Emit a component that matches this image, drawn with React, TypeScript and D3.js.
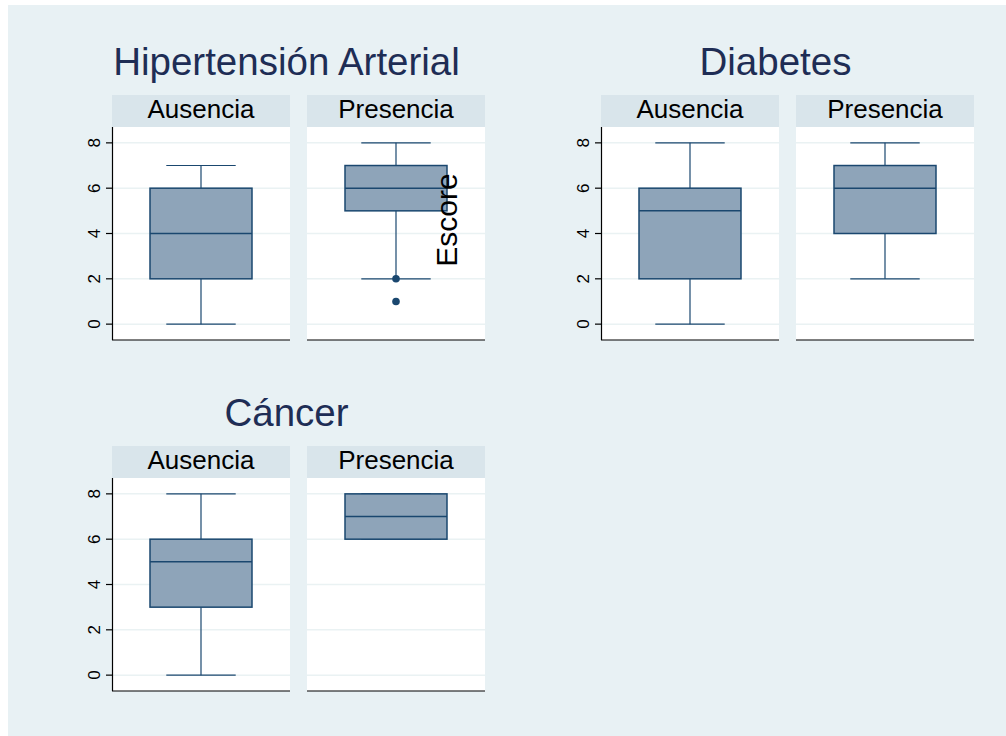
import * as d3 from "d3";

// Datos
const groupTitles = ["Hipertensión Arterial", "Diabetes", "Cáncer"];
const categories = ["Ausencia", "Presencia"];
const lowWhisker = [[0, 2], [0, 2], [0, 6]];
const q1 = [[2, 5], [2, 4], [3, 6]];
const median = [[4, 6], [5, 6], [5, 7]];
const q3 = [[6, 7], [6, 7], [6, 8]];
const highWhisker = [[7, 8], [8, 8], [8, 8]];
const outliers: number[][][] = [[[], [2, 1]], [[], []], [[], []]];
const yTicks = [0, 2, 4, 6, 8];

const W = 1006;
const H = 736;
const BG = "#e8f1f4";
const STRIP = "#d9e5eb";
const NAVY = "#1a476f";
const BOXFILL = "#8ea4b9";
const FONT = "'Liberation Sans', Arial, Helvetica, sans-serif";

// origines des groupes (coin gauche du premier panneau, haut de la bande)
const groupPos = [
  { x: 112, top: 95 },
  { x: 601, top: 95 },
  { x: 112, top: 446 },
];
const panelW = 178;
const panelGap = 17;
const stripH = 32;
const plotH = 213;

function Group({ gi }: { gi: number }) {
  const { x, top } = groupPos[gi];
  const plotTop = top + stripH;
  const plotBottom = plotTop + plotH;

  const xBand = d3
    .scaleBand<string>()
    .domain(categories)
    .range([x, x + 2 * panelW + panelGap])
    .paddingInner(panelGap / (panelW + panelGap));
  const y = d3.scaleLinear().domain([-0.7, 8.7]).range([plotBottom, plotTop]);

  const bw = xBand.bandwidth();
  const boxW = bw * 0.573;
  const capW = bw * 0.39;
  const titleCx = (x - 24 + x + 2 * panelW + panelGap) / 2;

  return (
    <g>
      <text
        x={titleCx}
        y={top - 20}
        textAnchor="middle"
        fontSize={38.5}
        fill="#1e2d55"
        fontFamily={FONT}
      >
        {groupTitles[gi]}
      </text>
      {categories.map((c, ci) => {
        const px = xBand(c)!;
        const cx = px + bw / 2;
        return (
          <g key={c}>
            <rect x={px} y={top} width={bw} height={stripH} fill={STRIP} />
            <text
              x={cx}
              y={top + 23}
              textAnchor="middle"
              fontSize={26}
              fill="#000"
              fontFamily={FONT}
            >
              {c}
            </text>
            <rect x={px} y={plotTop} width={bw} height={plotH} fill="#fff" />
            {yTicks.map((t) => (
              <line
                key={t}
                x1={px}
                x2={px + bw}
                y1={y(t)}
                y2={y(t)}
                stroke="#eaf2f3"
                strokeWidth={1.5}
              />
            ))}
            {/* bigotes */}
            <line x1={cx} x2={cx} y1={y(lowWhisker[gi][ci])} y2={y(q1[gi][ci])} stroke={NAVY} strokeWidth={1.2} />
            <line x1={cx} x2={cx} y1={y(q3[gi][ci])} y2={y(highWhisker[gi][ci])} stroke={NAVY} strokeWidth={1.2} />
            <line
              x1={cx - capW / 2}
              x2={cx + capW / 2}
              y1={y(lowWhisker[gi][ci])}
              y2={y(lowWhisker[gi][ci])}
              stroke={NAVY}
              strokeWidth={1.2}
            />
            <line
              x1={cx - capW / 2}
              x2={cx + capW / 2}
              y1={y(highWhisker[gi][ci])}
              y2={y(highWhisker[gi][ci])}
              stroke={NAVY}
              strokeWidth={1.2}
            />
            {/* caja */}
            <rect
              x={cx - boxW / 2}
              y={y(q3[gi][ci])}
              width={boxW}
              height={y(q1[gi][ci]) - y(q3[gi][ci])}
              fill={BOXFILL}
              stroke={NAVY}
              strokeWidth={1.5}
            />
            <line
              x1={cx - boxW / 2}
              x2={cx + boxW / 2}
              y1={y(median[gi][ci])}
              y2={y(median[gi][ci])}
              stroke={NAVY}
              strokeWidth={1.5}
            />
            {outliers[gi][ci].map((v, k) => (
              <circle key={k} cx={cx} cy={y(v)} r={3.8} fill={NAVY} />
            ))}
            {/* eje x */}
            <line x1={px} x2={px + bw} y1={plotBottom} y2={plotBottom} stroke="#000" strokeWidth={1.2} />
          </g>
        );
      })}
      {/* eje y */}
      <line x1={x + 0.5} x2={x + 0.5} y1={plotTop} y2={plotBottom} stroke="#000" strokeWidth={1.2} />
      {yTicks.map((t) => (
        <g key={t}>
          <line x1={x - 6} x2={x} y1={y(t)} y2={y(t)} stroke="#000" strokeWidth={1.2} />
          <text
            transform={`translate(${x - 12},${y(t)}) rotate(-90)`}
            textAnchor="middle"
            fontSize={17}
            fill="#000"
            fontFamily={FONT}
          >
            {t}
          </text>
        </g>
      ))}
    </g>
  );
}

export default function App() {
  return (
    <svg
      width={W}
      height={H}
      style={{ position: "absolute", left: 0, top: 0 }}
    >
      <rect x={0} y={0} width={W} height={H} fill="#fff" />
      <rect x={8} y={5} width={W - 8} height={H - 5} fill={BG} />
      {groupTitles.map((_, gi) => (
        <Group key={gi} gi={gi} />
      ))}
      <text
        transform="translate(457,220) rotate(-90)"
        textAnchor="middle"
        fontSize={30}
        fill="#000"
        fontFamily={FONT}
      >
        Escore
      </text>
    </svg>
  );
}
